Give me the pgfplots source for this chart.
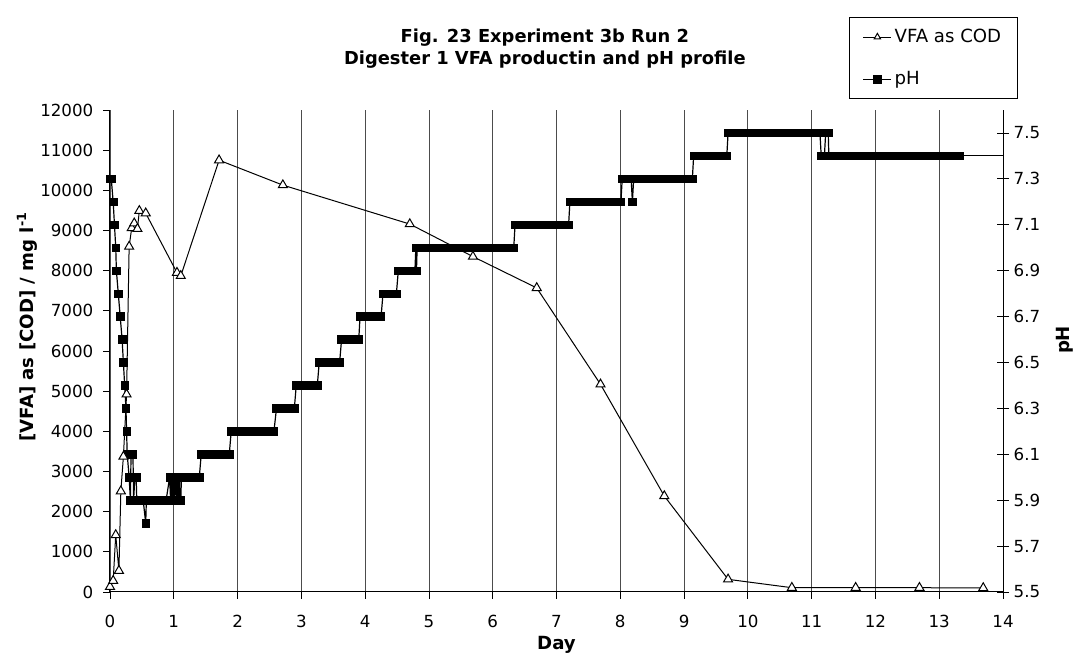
\documentclass[border=0pt]{standalone}
\usepackage{fontspec}
\setmainfont{DejaVu Sans}
\usepackage{pgfplots}
\usepackage{pgfplotstable}
\pgfplotsset{compat=1.18}

\pgfplotstableread{
day vfa
0.00 130
0.05 280
0.09 1420
0.14 530
0.17 2510
0.21 3370
0.26 4920
0.30 8600
0.34 9060
0.38 9180
0.43 9040
0.46 9490
0.56 9430
1.05 7950
1.11 7870
1.71 10750
2.71 10130
4.70 9160
5.69 8350
6.69 7570
7.69 5170
8.69 2390
9.69 315
10.69 107
11.69 107
12.69 107
13.69 100
}\vfadata

\pgfplotstableread{
day ph
0.00 7.3
0.02 7.3
0.05 7.2
0.07 7.1
0.09 7.0
0.10 6.9
0.13 6.8
0.16 6.7
0.19 6.6
0.21 6.5
0.23 6.4
0.25 6.3
0.26 6.2
0.27 6.1
0.30 6.0
0.32 5.9
0.33 6.1
0.36 6.1
0.37 5.9
0.39 6.0
0.41 6.0
0.42 5.9
0.47 5.9
0.52 5.9
0.56 5.8
0.57 5.9
0.64 5.9
0.72 5.9
0.80 5.9
0.88 5.9
0.935 6.0
0.950 5.9
0.965 6.0
0.980 5.9
0.995 6.0
1.010 5.9
1.025 6.0
1.040 5.9
1.055 6.0
1.070 5.9
1.085 6.0
1.100 5.9
1.110 5.9
1.120 6.0
1.19 6.0
1.26 6.0
1.33 6.0
1.40 6.0
1.43 6.1
1.50 6.1
1.58 6.1
1.66 6.1
1.74 6.1
1.81 6.1
1.87 6.1
1.90 6.2
1.97 6.2
2.04 6.2
2.11 6.2
2.18 6.2
2.25 6.2
2.32 6.2
2.39 6.2
2.46 6.2
2.52 6.2
2.57 6.2
2.61 6.3
2.68 6.3
2.75 6.3
2.82 6.3
2.89 6.3
2.92 6.4
2.99 6.4
3.06 6.4
3.13 6.4
3.20 6.4
3.25 6.4
3.28 6.5
3.35 6.5
3.42 6.5
3.49 6.5
3.56 6.5
3.60 6.5
3.63 6.6
3.70 6.6
3.77 6.6
3.84 6.6
3.90 6.6
3.92 6.7
3.99 6.7
4.06 6.7
4.13 6.7
4.20 6.7
4.25 6.7
4.28 6.8
4.35 6.8
4.42 6.8
4.49 6.8
4.52 6.9
4.59 6.9
4.66 6.9
4.73 6.9
4.78 6.9
4.795 7.0
4.805 6.9
4.815 7.0
4.82 7.0
4.89 7.0
4.96 7.0
5.03 7.0
5.10 7.0
5.17 7.0
5.24 7.0
5.31 7.0
5.38 7.0
5.45 7.0
5.52 7.0
5.59 7.0
5.66 7.0
5.73 7.0
5.80 7.0
5.87 7.0
5.94 7.0
6.01 7.0
6.08 7.0
6.15 7.0
6.22 7.0
6.29 7.0
6.33 7.0
6.35 7.1
6.42 7.1
6.49 7.1
6.56 7.1
6.63 7.1
6.70 7.1
6.77 7.1
6.84 7.1
6.91 7.1
6.98 7.1
7.05 7.1
7.12 7.1
7.19 7.1
7.21 7.2
7.28 7.2
7.35 7.2
7.42 7.2
7.49 7.2
7.56 7.2
7.63 7.2
7.70 7.2
7.77 7.2
7.84 7.2
7.91 7.2
7.98 7.2
8.01 7.2
8.03 7.3
8.10 7.3
8.17 7.3
8.19 7.2
8.21 7.3
8.28 7.3
8.35 7.3
8.42 7.3
8.49 7.3
8.56 7.3
8.63 7.3
8.70 7.3
8.77 7.3
8.84 7.3
8.91 7.3
8.98 7.3
9.05 7.3
9.13 7.3
9.15 7.4
9.22 7.4
9.29 7.4
9.36 7.4
9.43 7.4
9.50 7.4
9.57 7.4
9.64 7.4
9.67 7.4
9.69 7.5
9.76 7.5
9.83 7.5
9.90 7.5
9.97 7.5
10.04 7.5
10.11 7.5
10.18 7.5
10.25 7.5
10.32 7.5
10.39 7.5
10.46 7.5
10.53 7.5
10.60 7.5
10.67 7.5
10.74 7.5
10.81 7.5
10.88 7.5
10.95 7.5
11.02 7.5
11.09 7.5
11.13 7.5
11.15 7.4
11.20 7.4
11.22 7.5
11.26 7.5
11.27 7.4
11.34 7.4
11.41 7.4
11.48 7.4
11.55 7.4
11.62 7.4
11.69 7.4
11.76 7.4
11.83 7.4
11.90 7.4
11.97 7.4
12.04 7.4
12.11 7.4
12.18 7.4
12.25 7.4
12.32 7.4
12.39 7.4
12.46 7.4
12.53 7.4
12.60 7.4
12.67 7.4
12.74 7.4
12.81 7.4
12.88 7.4
12.95 7.4
13.02 7.4
13.09 7.4
13.16 7.4
13.23 7.4
13.30 7.4
13.32 7.4
}\phdata

\pgfplotstableread{
day ph
13.32 7.4
14.00 7.4
}\phtail

\newcommand{\fs}{\fontsize{12.5pt}{16.5pt}\selectfont}
\newcommand{\fl}{\fontsize{13.6pt}{16.5pt}\selectfont}

\begin{document}
\begin{tikzpicture}
\useasboundingbox (-82.5pt,-50.25pt) rectangle (726pt,444pt);
% pH axis (drawn first, holds the grid)
\begin{axis}[
  scale only axis, width=669.75pt, height=361.5pt,
  at={(0pt,0pt)}, anchor=south west,
  clip=false,
  xmin=0, xmax=14, ymin=5.5, ymax=7.6,
  axis y line*=right, axis x line*=bottom,
  axis line style={black, line width=0.75pt, -},
  xtick={0,1,...,14}, xticklabels={},
  xmajorgrids, grid style={black!70, line width=0.6pt},
  x tick style={draw=none},
  ytick={5.5,5.7,5.9,6.1,6.3,6.5,6.7,6.9,7.1,7.3,7.5},
  y tick style={black, line width=0.6pt},
  ytick align=center, major tick length=9pt,
  yticklabel style={font=\fs, /pgf/number format/.cd, fixed, precision=1, fixed zerofill, assume math mode=true},
  ylabel={\bfseries pH},
  ylabel style={font=\fl, at={(axis description cs:1.069,0.523)}, anchor=center},
  legend style={at={(axis description cs:0.8276,1.193)}, anchor=north west,
    draw=black, line width=0.6pt, font=\fl, inner xsep=10pt, inner ysep=7pt,
    row sep=16pt, legend cell align=left},
  legend image code/.code={\draw[mark repeat=2,mark phase=2] plot coordinates {(0pt,0pt)(10.5pt,0pt)(21pt,0pt)};},
]
\addlegendimage{black, line width=0.75pt, mark=triangle*, mark size=2.8pt, mark options={fill=white, draw=black, line width=0.75pt}}
\addlegendentry{VFA as COD}
\addplot[black, line width=0.9pt, mark=square*, mark size=2.8pt, mark options={solid, fill=black, line width=0.5pt}] table[x=day, y=ph] {\phdata};
\addlegendentry{pH}
\addplot[black, line width=0.9pt, forget plot] table[x=day, y=ph] {\phtail};
\end{axis}
% VFA axis
\begin{axis}[
  scale only axis, width=669.75pt, height=361.5pt,
  at={(0pt,0pt)}, anchor=south west,
  clip=false,
  xmin=0, xmax=14, ymin=0, ymax=12000,
  axis x line*=bottom, axis y line*=left,
  axis line style={black, line width=0.75pt, -},
  xtick={0,1,...,14}, ytick={0,1000,...,12000},
  scaled y ticks=false, scaled x ticks=false,
  tick align=outside, major tick length=5pt,
  tick style={black, line width=0.6pt},
  xticklabel style={font=\fs, yshift=-9pt},
  yticklabel style={font=\fs, xshift=-4pt},
  /pgf/number format/1000 sep={},
  /pgf/number format/assume math mode=true,
  xlabel={\bfseries Day},
  xlabel style={font=\fl, at={(axis description cs:0.5,-0.11)}, anchor=center},
  ylabel={\bfseries [VFA] as [COD] / mg l\textsuperscript{-1}},
  ylabel style={font=\fl, at={(axis description cs:-0.093,0.55)}, anchor=center},
  title={Fig. 23 Experiment 3b Run 2\\Digester 1 VFA productin and pH profile},
  title style={font=\bfseries\fontsize{13.4pt}{16.5pt}\selectfont, align=center, at={(axis description cs:0.487,1.110)}, anchor=center},
]
\addplot[black, line width=0.75pt, mark=triangle*, mark size=3.9pt, mark options={fill=white, draw=black, line width=0.75pt}] table[x=day, y=vfa] {\vfadata};
\end{axis}
\end{tikzpicture}
\end{document}
